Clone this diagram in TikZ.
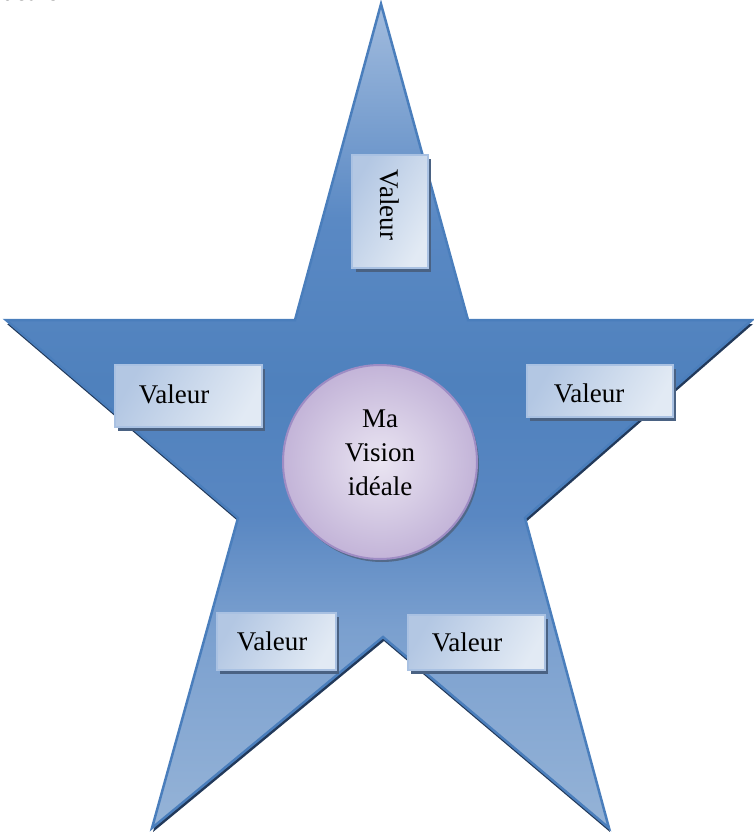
\documentclass[tikz,border=0pt]{standalone}
\usepackage{fontspec}
\setmainfont{Liberation Serif}
\definecolor{starline}{HTML}{4A7EBC}
\definecolor{starshadow}{HTML}{22395A}
\definecolor{sA}{HTML}{95B3D7}
\definecolor{sB}{HTML}{7BA0CF}
\definecolor{sC}{HTML}{5987C2}
\definecolor{sD}{HTML}{4F81BD}
\definecolor{sE}{HTML}{5A89C4}
\definecolor{sF}{HTML}{A2BCDE}
\definecolor{boxdark}{HTML}{B3C7E3}
\definecolor{boxlight}{HTML}{E2EAF4}
\definecolor{boxline}{HTML}{A9C1E2}
\definecolor{boxshadow}{HTML}{4A6283}
\definecolor{circdark}{HTML}{C3B4D8}
\definecolor{circlight}{HTML}{EAE5F2}
\definecolor{circline}{HTML}{9E8CC4}
\pgfdeclareverticalshading{starshade}{100bp}{color(0bp)=(sA); color(25bp)=(sA); color(37bp)=(sB); color(44bp)=(sC); color(52bp)=(sD); color(62bp)=(sE); color(75bp)=(sF); color(100bp)=(sF)}
\tikzset{
  valtext/.style={font=\fontsize{27}{32}\selectfont, inner sep=0pt},
  boxfill/.style={left color=boxdark, right color=boxlight, shading angle=60, draw=boxline, line width=1.5pt},
  boxshadow/.style={fill=boxshadow, draw=none},
}
\begin{document}
\begin{tikzpicture}[x=1pt,y=-1pt]
\useasboundingbox (0,0) rectangle (754,832);
% clipped title fragment
\node[valtext, anchor=base west] (title) at (-6,1) {idéale};
% star shadow
\fill[starshadow, shift={(1,4)}] (381,4) -- (468,320) -- (752,320) -- (525,518) -- (609,828) -- (383,637) -- (152,828) -- (238,518) -- (6,320) -- (295,320) -- cycle;
% star
\path[shading=starshade, draw=starline, line width=2.5pt, line join=miter]
  (381,4) -- (468,320) -- (752,320) -- (525,518) -- (609,828) -- (383,637) -- (152,828) -- (238,518) -- (6,320) -- (295,320) -- cycle;
% box shadows
\fill[boxshadow] (356,159) rectangle (431,272);
\fill[boxshadow] (118,369) rectangle (265,431);
\fill[boxshadow] (530,369) rectangle (676,421);
\fill[boxshadow] (220,617) rectangle (339,674);
\fill[boxshadow] (411,619) rectangle (548,674);
% boxes
\shade[boxfill] (352,155) rectangle (428,268);
\shade[boxfill] (115,365) rectangle (262,427);
\shade[boxfill] (527,365) rectangle (673,417);
\shade[boxfill] (217,613) rectangle (336,670);
\shade[boxfill] (408,615) rectangle (545,670);
% texts
\node[valtext, rotate=-90] (vtop) at (390,205) {Valeur};
\node[valtext] (vleft) at (174,394) {Valeur};
\node[valtext] (vright) at (589,393) {Valeur};
\node[valtext] (vbl) at (272,641) {Valeur};
\node[valtext] (vbr) at (467,642) {Valeur};
% circle
\fill[starshadow!80, opacity=0.8] (382,465) circle (97);
\shade[inner color=circlight, outer color=circdark, draw=circline, line width=2pt] (380,462) circle (97);
\node[valtext, align=center, font=\fontsize{27}{34}\selectfont] (vision) at (380,453) {Ma\\Vision\\idéale};
\end{tikzpicture}
\end{document}
